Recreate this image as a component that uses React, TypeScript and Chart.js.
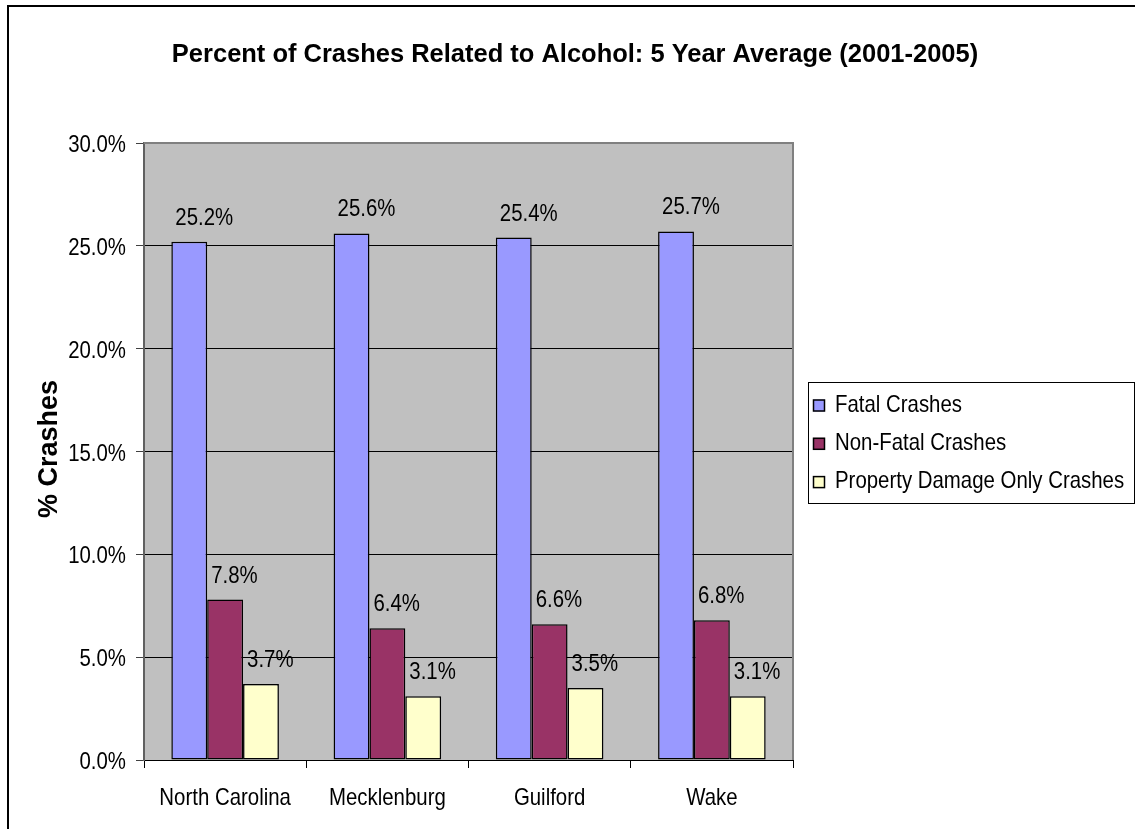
import React, { useEffect, useRef } from "react";
import { Chart, registerables } from "chart.js";

Chart.register(...registerables);

const TITLE = "Percent of Crashes Related to Alcohol: 5 Year Average (2001-2005)";
const Y_TITLE = "% Crashes";
const categories = ["North Carolina", "Mecklenburg", "Guilford", "Wake"];
const seriesNames = ["Fatal Crashes", "Non-Fatal Crashes", "Property Damage Only Crashes"];
const fatal = [25.2, 25.6, 25.4, 25.7];
const nonFatal = [7.8, 6.4, 6.6, 6.8];
const propertyOnly = [3.7, 3.1, 3.5, 3.1];
const colors = ["#9999FF", "#993366", "#FFFFCC"];

const FAMILY = "'Liberation Sans', Arial, sans-serif";
const NARROW_X = 0.85;

const W = 1135;
const H = 829;

function drawText(
  ctx: CanvasRenderingContext2D,
  text: string,
  x: number,
  y: number,
  align: CanvasTextAlign,
  font: string,
  sx: number
) {
  ctx.save();
  ctx.font = font;
  ctx.textAlign = align;
  ctx.textBaseline = "alphabetic";
  ctx.fillStyle = "#000";
  ctx.translate(x, y);
  ctx.scale(sx, 1);
  ctx.fillText(text, 0, 0);
  ctx.restore();
}

const decorPlugin = {
  id: "decor",
  beforeDraw(chart: any) {
    const { ctx, chartArea } = chart;
    ctx.save();
    ctx.fillStyle = "#FFFFFF";
    ctx.fillRect(0, 0, W, H);
    ctx.fillStyle = "#C0C0C0";
    ctx.fillRect(chartArea.left, chartArea.top, chartArea.right - chartArea.left, chartArea.bottom - chartArea.top);
    ctx.restore();
  },
  afterDatasetsDraw(chart: any) {
    const { ctx, chartArea } = chart;
    const labelFont = `24px ${FAMILY}`;
    ctx.save();
    // plot border (top / right)
    ctx.strokeStyle = "#808080";
    ctx.lineWidth = 2;
    ctx.beginPath();
    ctx.moveTo(chartArea.left, chartArea.top);
    ctx.lineTo(chartArea.right, chartArea.top);
    ctx.lineTo(chartArea.right, chartArea.bottom);
    ctx.stroke();

    // data labels
    chart.data.datasets.forEach((ds: any, di: number) => {
      const meta = chart.getDatasetMeta(di);
      meta.data.forEach((bar: any, i: number) => {
        const v = ds.data[i];
        const left = bar.x - bar.width / 2;
        drawText(ctx, v.toFixed(1) + "%", left + 4, bar.y - 17, "left", labelFont, NARROW_X);
      });
    });

    // axis tick labels
    const xs = chart.scales.x;
    categories.forEach((c, i) => {
      drawText(ctx, c, xs.getPixelForValue(i), 805, "center", labelFont, NARROW_X);
    });
    const ys = chart.scales.y;
    ys.ticks.forEach((t: any) => {
      const y = ys.getPixelForValue(t.value);
      drawText(ctx, Number(t.value).toFixed(1) + "%", 126, y + 9, "right", labelFont, NARROW_X);
    });

    // outer border
    ctx.strokeStyle = "#000";
    ctx.lineWidth = 2;
    ctx.strokeRect(8, 6, W + 20, H + 20);

    // title
    drawText(ctx, TITLE, 575, 62, "center", `bold 26px ${FAMILY}`, 0.98);

    // y title
    ctx.save();
    ctx.translate(57, 449);
    ctx.rotate(-Math.PI / 2);
    ctx.font = `bold 27px ${FAMILY}`;
    ctx.textAlign = "center";
    ctx.fillStyle = "#000";
    ctx.fillText(Y_TITLE, 0, 0);
    ctx.restore();

    // legend
    const lx = 808, ly = 382, lw = 326, lh = 121;
    ctx.lineWidth = 1;
    ctx.strokeStyle = "#000";
    ctx.fillStyle = "#FFFFFF";
    ctx.fillRect(lx, ly, lw, lh);
    ctx.strokeRect(lx + 0.5, ly + 0.5, lw, lh);
    chart.data.datasets.forEach((ds: any, di: number) => {
      const baseline = 411.5 + di * 38.3;
      ctx.fillStyle = ds.backgroundColor;
      ctx.fillRect(813, baseline - 12, 12, 12);
      ctx.strokeStyle = "#000";
      ctx.lineWidth = 1.5;
      ctx.strokeRect(813.5, baseline - 11.5, 11, 11);
      drawText(ctx, ds.label, 835, baseline, "left", labelFont, NARROW_X);
    });
    ctx.restore();
  },
};

export default function App() {
  const ref = useRef<HTMLCanvasElement>(null);
  useEffect(() => {
    if (!ref.current) return;
    const series = [fatal, nonFatal, propertyOnly];
    const chart = new Chart(ref.current, {
      type: "bar",
      data: {
        labels: categories,
        datasets: series.map((d, i) => ({
          label: seriesNames[i],
          data: d,
          backgroundColor: colors[i],
          borderColor: "#000",
          borderWidth: 1.5,
          borderSkipped: false as any,
          barPercentage: 1,
          categoryPercentage: 0.663,
        })),
      },
      options: {
        responsive: false,
        animation: false,
        devicePixelRatio: 1,
        layout: { padding: { top: 143, right: W - 793, left: 0, bottom: 0 } },
        plugins: {
          legend: { display: false },
          title: { display: false },
          tooltip: { enabled: false },
        },
        scales: {
          x: {
            afterFit: (s: any) => { s.height = H - 760; },
            grid: {
              offset: true,
              drawOnChartArea: false,
              tickLength: 8,
              color: "#000",
            },
            border: { display: true, color: "#000", width: 1 },
            ticks: { display: false },
          },
          y: {
            min: 0,
            max: 30,
            afterFit: (s: any) => { s.width = 144; },
            grid: {
              color: "#000",
              lineWidth: 1,
              tickLength: 8,
              tickColor: "#404040",
            },
            border: { display: true, color: "#606060", width: 2 },
            ticks: { display: false, stepSize: 5 },
          },
        },
      },
      plugins: [decorPlugin],
    });
    return () => chart.destroy();
  }, []);
  return (
    <div style={{ position: "absolute", left: 0, top: 0, width: W, height: H }}>
      <canvas ref={ref} width={W} height={H} style={{ display: "block" }} />
    </div>
  );
}
